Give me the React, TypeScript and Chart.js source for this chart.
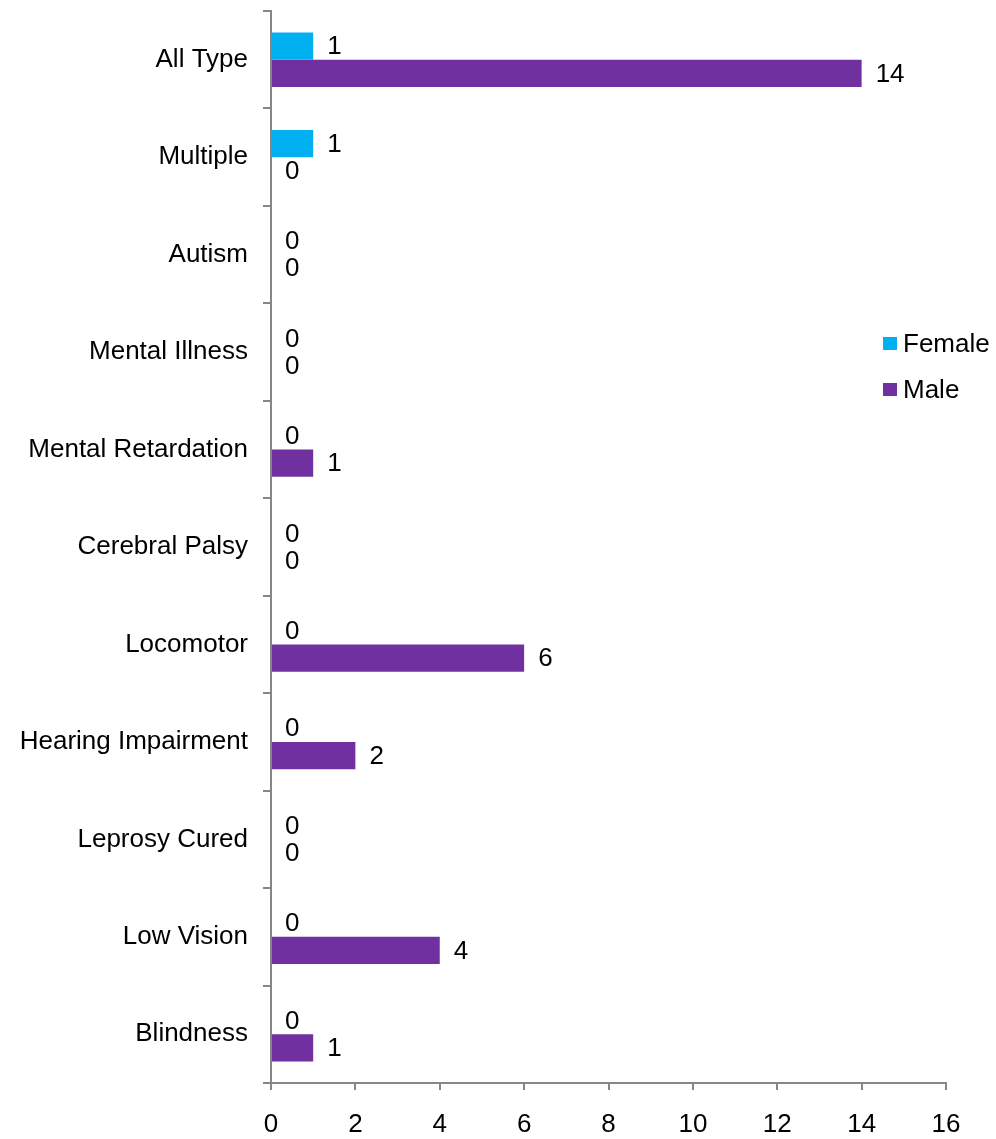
import React, { useEffect, useRef } from "react";
import { Chart, registerables } from "chart.js";

Chart.register(...registerables);

const categories = [
  "All Type",
  "Multiple",
  "Autism",
  "Mental Illness",
  "Mental Retardation",
  "Cerebral Palsy",
  "Locomotor",
  "Hearing Impairment",
  "Leprosy Cured",
  "Low Vision",
  "Blindness",
];
const femaleValues = [1, 1, 0, 0, 0, 0, 0, 0, 0, 0, 0];
const maleValues = [14, 0, 0, 0, 1, 0, 6, 2, 0, 4, 1];
const xMin = 0;
const xMax = 16;
const xStep = 2;

const FONT = '"Liberation Sans", Arial, sans-serif';
const FEMALE_COLOR = "#00B0F0";
const MALE_COLOR = "#7030A0";
const AXIS_COLOR = "#868686";

const valueLabels = {
  id: "valueLabels",
  afterDatasetsDraw(chart: any) {
    const ctx = chart.ctx;
    ctx.save();
    ctx.font = `26px ${FONT}`;
    ctx.fillStyle = "#000";
    ctx.textAlign = "left";
    ctx.textBaseline = "middle";
    chart.data.datasets.forEach((ds: any, di: number) => {
      const meta = chart.getDatasetMeta(di);
      meta.data.forEach((bar: any, i: number) => {
        const v = ds.data[i];
        ctx.fillText(String(v), bar.x + 14, bar.y + 1);
      });
    });
    ctx.restore();
  },
};

export default function App() {
  const canvasRef = useRef<HTMLCanvasElement | null>(null);

  useEffect(() => {
    if (!canvasRef.current) return;
    const chart = new Chart(canvasRef.current, {
      type: "bar",
      data: {
        labels: categories,
        datasets: [
          {
            label: "Female",
            data: femaleValues,
            backgroundColor: FEMALE_COLOR,
            categoryPercentage: 0.56,
            barPercentage: 1,
          },
          {
            label: "Male",
            data: maleValues,
            backgroundColor: MALE_COLOR,
            categoryPercentage: 0.56,
            barPercentage: 1,
          },
        ],
      },
      options: {
        indexAxis: "y",
        animation: false,
        responsive: false,
        maintainAspectRatio: false,
        layout: { padding: { top: 11, right: 50, left: 0, bottom: 0 } },
        plugins: {
          legend: { display: false },
          tooltip: { enabled: false },
        },
        scales: {
          x: {
            min: xMin,
            max: xMax,
            ticks: {
              stepSize: xStep,
              color: "#000",
              font: { family: FONT, size: 26 },
              padding: 19,
            },
            grid: {
              drawOnChartArea: false,
              drawTicks: true,
              tickLength: 7,
              color: AXIS_COLOR,
              lineWidth: 2,
            },
            border: { color: AXIS_COLOR, width: 2 },
            afterFit: (scale: any) => {
              scale.height = 56;
              scale.paddingLeft = 0;
              scale.paddingRight = 0;
            },
          },
          y: {
            ticks: {
              color: "#000",
              font: { family: FONT, size: 26 },
              padding: 15,
            },
            grid: {
              drawOnChartArea: false,
              drawTicks: true,
              tickLength: 8,
              color: AXIS_COLOR,
              lineWidth: 2,
              offset: true,
            },
            border: { color: AXIS_COLOR, width: 2 },
            afterFit: (scale: any) => {
              scale.width = 271;
              scale.paddingTop = 0;
              scale.paddingBottom = 0;
            },
          },
        },
      },
      plugins: [valueLabels],
    });
    return () => chart.destroy();
  }, []);

  const legendItem = (color: string, label: string, top: number) => (
    <div
      style={{
        position: "absolute",
        left: 883,
        top,
        display: "flex",
        alignItems: "center",
        fontFamily: FONT,
        fontSize: 26,
        color: "#000",
        lineHeight: "30px",
        whiteSpace: "nowrap",
      }}
    >
      <span
        style={{
          display: "inline-block",
          width: 14,
          height: 13,
          background: color,
          marginRight: 6,
        }}
      />
      <span>{label}</span>
    </div>
  );

  return (
    <div
      style={{
        position: "absolute",
        left: 0,
        top: 0,
        width: 996,
        height: 1139,
        background: "#fff",
      }}
    >
      <canvas ref={canvasRef} width={996} height={1139} style={{ display: "block" }} />
      {legendItem(FEMALE_COLOR, "Female", 328)}
      {legendItem(MALE_COLOR, "Male", 374)}
    </div>
  );
}
